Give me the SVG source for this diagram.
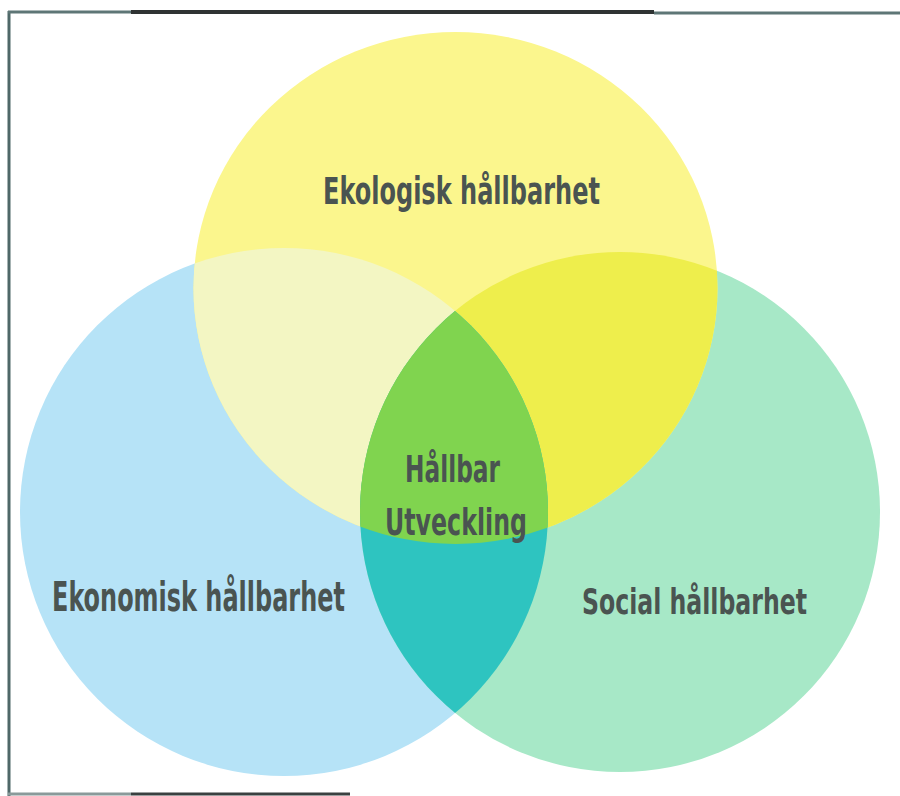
<svg xmlns="http://www.w3.org/2000/svg" width="900" height="796" viewBox="0 0 900 796">
  <style>
    .lbl { font-family: "Liberation Sans Narrow", "DejaVu Sans Condensed", "Liberation Sans", sans-serif; font-weight: bold; fill: #4a5451; }
  </style>
  <defs>
    <ellipse id="cY" cx="455.5" cy="288" rx="262" ry="256"/>
    <circle id="cB" cx="284" cy="512" r="264"/>
    <circle id="cG" cx="620" cy="512" r="260"/>
    <clipPath id="clipY"><use href="#cY"/></clipPath>
    <clipPath id="clipB"><use href="#cB"/></clipPath>
    <clipPath id="clipG"><use href="#cG"/></clipPath>
  </defs>
  <rect width="900" height="796" fill="#ffffff"/>

  <g id="frame" fill="none">
    <line x1="9" y1="11" x2="9" y2="796" stroke="#4f6868" stroke-width="3"/>
    <line x1="8" y1="12" x2="131" y2="12" stroke="#5e7676" stroke-width="3"/>
    <line x1="131" y1="12" x2="654" y2="12" stroke="#2f3333" stroke-width="4"/>
    <line x1="654" y1="13" x2="900" y2="13" stroke="#5e7676" stroke-width="3"/>
    <line x1="8" y1="794" x2="131" y2="794" stroke="#8a9a9a" stroke-width="3"/>
    <line x1="131" y1="794" x2="350" y2="794" stroke="#3a4040" stroke-width="3"/>
  </g>

  <g id="circle-ekonomisk">
    <use href="#cB" fill="#b6e3f7"/>
  </g>
  <g id="circle-social">
    <use href="#cG" fill="#a7e8c7"/>
  </g>
  <g id="circle-ekologisk">
    <use href="#cY" fill="#fbf68d"/>
  </g>
  <g id="overlaps">
    <g clip-path="url(#clipB)"><use href="#cY" fill="#f3f6c3"/></g>
    <g clip-path="url(#clipG)"><use href="#cY" fill="#eeee4c"/></g>
    <g clip-path="url(#clipB)"><use href="#cG" fill="#2ec4c0"/></g>
    <g clip-path="url(#clipB)"><g clip-path="url(#clipG)"><use href="#cY" fill="#80d44f"/></g></g>
  </g>

  <g id="labels">
    <text class="lbl" x="323" y="204" font-size="37" textLength="277" lengthAdjust="spacingAndGlyphs">Ekologisk hållbarhet</text>
    <text class="lbl" x="405" y="482" font-size="38" textLength="95" lengthAdjust="spacingAndGlyphs">Hållbar</text>
    <text class="lbl" x="385" y="535" font-size="38" textLength="142" lengthAdjust="spacingAndGlyphs">Utveckling</text>
    <text class="lbl" x="52" y="611" font-size="40" textLength="293" lengthAdjust="spacingAndGlyphs">Ekonomisk hållbarhet</text>
    <text class="lbl" x="694.5" y="614" font-size="35" text-anchor="middle" textLength="225" lengthAdjust="spacingAndGlyphs">Social hållbarhet</text>
  </g>
</svg>
